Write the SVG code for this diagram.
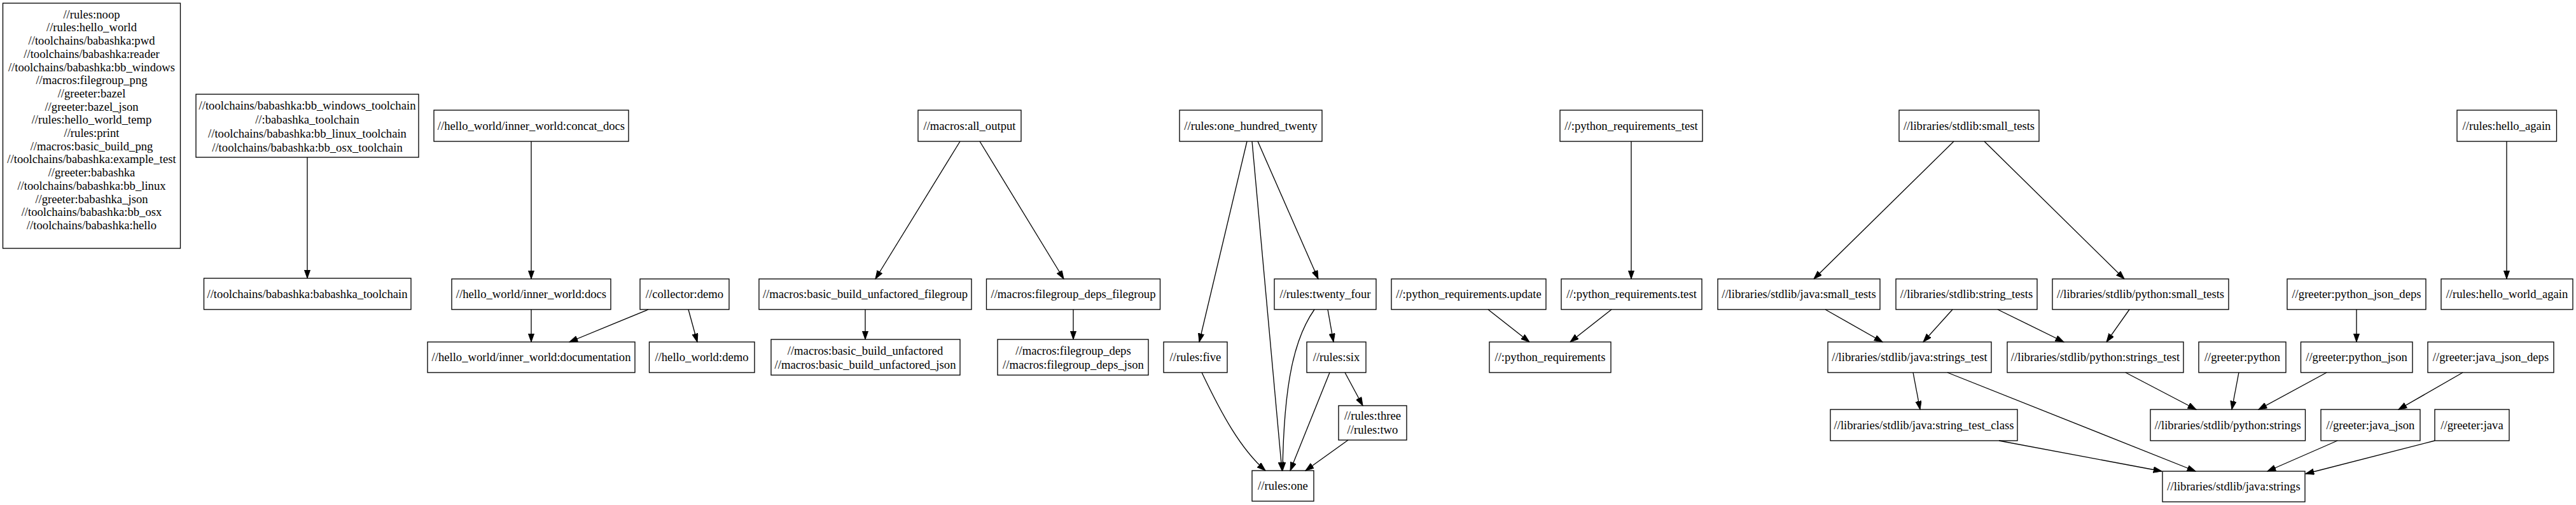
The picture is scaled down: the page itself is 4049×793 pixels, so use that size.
<svg xmlns="http://www.w3.org/2000/svg" width="4049" height="793" viewBox="0 0 4049 793">
<style>
rect{fill:#fff;stroke:#000;stroke-width:1.33}
text{font-family:"Liberation Serif","Times New Roman",serif;font-size:18.67px;text-anchor:middle;fill:#000}
#edges path{fill:none;stroke:#000;stroke-width:1.33;marker-end:url(#arr)}
</style>
<defs><marker id="arr" markerUnits="userSpaceOnUse" markerWidth="14" markerHeight="10" refX="13.3" refY="4.67" orient="auto"><path d="M0,0 L13.3,4.67 L0,9.33 z" fill="#000" stroke="#000" stroke-width="1"/></marker></defs>
<rect x="0" y="0" width="4049" height="793" style="stroke:none"/>
<g id="n_big"><rect x="4.5" y="5" width="279" height="385"/>
<text x="144" y="28.7">//rules:noop</text><text x="144" y="49.4">//rules:hello_world</text><text x="144" y="70.1">//toolchains/babashka:pwd</text><text x="144" y="90.8">//toolchains/babashka:reader</text><text x="144" y="111.5">//toolchains/babashka:bb_windows</text><text x="144" y="132.2">//macros:filegroup_png</text><text x="144" y="152.9">//greeter:bazel</text><text x="144" y="173.6">//greeter:bazel_json</text><text x="144" y="194.3">//rules:hello_world_temp</text><text x="144" y="215">//rules:print</text><text x="144" y="235.7">//macros:basic_build_png</text><text x="144" y="256.4">//toolchains/babashka:example_test</text><text x="144" y="277.1">//greeter:babashka</text><text x="144" y="297.8">//toolchains/babashka:bb_linux</text><text x="144" y="318.5">//greeter:babashka_json</text><text x="144" y="339.2">//toolchains/babashka:bb_osx</text><text x="144" y="359.9">//toolchains/babashka:hello</text>
</g>
<g id="n_bbtc"><rect x="308" y="148" width="350" height="99"/><text x="483" y="172">//toolchains/babashka:bb_windows_toolchain</text><text x="483" y="194">//:babashka_toolchain</text><text x="483" y="216">//toolchains/babashka:bb_linux_toolchain</text><text x="483" y="238">//toolchains/babashka:bb_osx_toolchain</text></g>
<g id="n_tc"><rect x="320.5" y="437" width="325.5" height="49"/><text x="483" y="467.5">//toolchains/babashka:babashka_toolchain</text></g>
<g id="n_concat"><rect x="682" y="173" width="306" height="49"/><text x="835" y="203.5">//hello_world/inner_world:concat_docs</text></g>
<g id="n_docs"><rect x="710" y="438" width="250" height="48"/><text x="835" y="468">//hello_world/inner_world:docs</text></g>
<g id="n_collector"><rect x="1006" y="438" width="140" height="48"/><text x="1076" y="468">//collector:demo</text></g>
<g id="n_documentation"><rect x="672" y="537" width="326" height="48"/><text x="835" y="567">//hello_world/inner_world:documentation</text></g>
<g id="n_hwdemo"><rect x="1020.5" y="537" width="165.5" height="48"/><text x="1103" y="567">//hello_world:demo</text></g>
<g id="n_allout"><rect x="1443" y="173" width="162" height="49"/><text x="1524" y="203.5">//macros:all_output</text></g>
<g id="n_bbuf"><rect x="1193" y="438" width="334" height="48"/><text x="1360" y="468">//macros:basic_build_unfactored_filegroup</text></g>
<g id="n_fdf"><rect x="1550.5" y="438" width="273" height="48"/><text x="1687" y="468">//macros:filegroup_deps_filegroup</text></g>
<g id="n_bbu"><rect x="1212" y="533" width="297" height="56"/><text x="1360" y="557">//macros:basic_build_unfactored</text><text x="1360" y="579">//macros:basic_build_unfactored_json</text></g>
<g id="n_fd"><rect x="1568" y="533" width="237" height="56"/><text x="1687" y="557">//macros:filegroup_deps</text><text x="1687" y="579">//macros:filegroup_deps_json</text></g>
<g id="n_oht"><rect x="1854" y="173" width="224" height="49"/><text x="1966" y="203.5">//rules:one_hundred_twenty</text></g>
<g id="n_24"><rect x="2003" y="438" width="160" height="48"/><text x="2083" y="468">//rules:twenty_four</text></g>
<g id="n_five"><rect x="1829" y="537" width="100" height="48"/><text x="1879" y="567">//rules:five</text></g>
<g id="n_six"><rect x="2054" y="537" width="93" height="48"/><text x="2100.5" y="567">//rules:six</text></g>
<g id="n_three"><rect x="2104" y="637" width="107" height="54"/><text x="2157.5" y="659">//rules:three</text><text x="2157.5" y="681">//rules:two</text></g>
<g id="n_one"><rect x="1968" y="739" width="97" height="48"/><text x="2016.5" y="769">//rules:one</text></g>
<g id="n_prt"><rect x="2452" y="173" width="224" height="49"/><text x="2564" y="203.5">//:python_requirements_test</text></g>
<g id="n_pru"><rect x="2187" y="438" width="243" height="48"/><text x="2308.5" y="468">//:python_requirements.update</text></g>
<g id="n_prtest"><rect x="2454" y="438" width="221" height="48"/><text x="2564.5" y="468">//:python_requirements.test</text></g>
<g id="n_pr"><rect x="2341" y="537" width="191" height="48"/><text x="2436.5" y="567">//:python_requirements</text></g>
<g id="n_small"><rect x="2985" y="173" width="220" height="49"/><text x="3095" y="203.5">//libraries/stdlib:small_tests</text></g>
<g id="n_jsmall"><rect x="2700" y="438" width="255" height="48"/><text x="2827.5" y="468">//libraries/stdlib/java:small_tests</text></g>
<g id="n_strtests"><rect x="2980" y="438" width="222" height="48"/><text x="3091" y="468">//libraries/stdlib:string_tests</text></g>
<g id="n_psmall"><rect x="3226" y="438" width="277" height="48"/><text x="3364.5" y="468">//libraries/stdlib/python:small_tests</text></g>
<g id="n_jst"><rect x="2873" y="537" width="257" height="48"/><text x="3001.5" y="567">//libraries/stdlib/java:strings_test</text></g>
<g id="n_pst"><rect x="3155" y="537" width="277" height="48"/><text x="3293.5" y="567">//libraries/stdlib/python:strings_test</text></g>
<g id="n_stc"><rect x="2877" y="643" width="294" height="49"/><text x="3024" y="673.5">//libraries/stdlib/java:string_test_class</text></g>
<g id="n_pstrings"><rect x="3380" y="643" width="243.5" height="49"/><text x="3501.7" y="673.5">//libraries/stdlib/python:strings</text></g>
<g id="n_jstrings"><rect x="3399" y="740" width="224" height="48"/><text x="3511" y="770">//libraries/stdlib/java:strings</text></g>
<g id="n_hello_again"><rect x="3862" y="173" width="156.5" height="49"/><text x="3940" y="203.5">//rules:hello_again</text></g>
<g id="n_pjd"><rect x="3595" y="438" width="218" height="48"/><text x="3704" y="468">//greeter:python_json_deps</text></g>
<g id="n_hwa"><rect x="3837" y="438" width="207" height="48"/><text x="3940.5" y="468">//rules:hello_world_again</text></g>
<g id="n_gpython"><rect x="3456" y="537" width="137" height="48"/><text x="3524.5" y="567">//greeter:python</text></g>
<g id="n_gpj"><rect x="3616.5" y="537" width="175.5" height="48"/><text x="3704" y="567">//greeter:python_json</text></g>
<g id="n_jjd"><rect x="3816" y="537" width="198" height="48"/><text x="3915" y="567">//greeter:java_json_deps</text></g>
<g id="n_gjj"><rect x="3648" y="643" width="156" height="49"/><text x="3726" y="673.5">//greeter:java_json</text></g>
<g id="n_gjava"><rect x="3827" y="643" width="117" height="49"/><text x="3885.5" y="673.5">//greeter:java</text></g>
<g id="edges">
<path d="M483,247 L483,437"/>
<path d="M835,222 L835,438"/>
<path d="M835,486 L835,537"/>
<path d="M1019,486 L895,537"/>
<path d="M1082,486 L1096,537"/>
<path d="M1509,222 L1376,438"/>
<path d="M1540,222 L1672,438"/>
<path d="M1360,486 L1360,533"/>
<path d="M1687,486 L1687,533"/>
<path d="M1960,222 L1885,537"/>
<path d="M1968,222 L2015,739"/>
<path d="M1977,222 L2072,438"/>
<path d="M2066,486 C2035,530 2018,600 2016,739"/>
<path d="M2087,486 L2096,537"/>
<path d="M1889,585 C1920,650 1950,705 1989,739"/>
<path d="M2090,585 L2028,739"/>
<path d="M2114,585 L2142,637"/>
<path d="M2119,691 L2052,739"/>
<path d="M2564,222 L2564,438"/>
<path d="M2339,486 L2404,537"/>
<path d="M2533,486 L2468,537"/>
<path d="M3071,222 L2851,438"/>
<path d="M3119,222 L3339,438"/>
<path d="M2869,486 L2959,537"/>
<path d="M3069,486 L3023,537"/>
<path d="M3140,486 L3244,537"/>
<path d="M3347,486 L3311,537"/>
<path d="M3007,585 L3018,643"/>
<path d="M3061,585 L3451,740"/>
<path d="M3142,692 L3398,740"/>
<path d="M3341,585 L3452,643"/>
<path d="M3940,222 L3940,438"/>
<path d="M3704,486 L3704,537"/>
<path d="M3519,585 L3508,643"/>
<path d="M3657,585 L3550,643"/>
<path d="M3871,585 L3770,643"/>
<path d="M3674,692 L3564,740"/>
<path d="M3827,692 L3624,744"/>
</g>
</svg>
